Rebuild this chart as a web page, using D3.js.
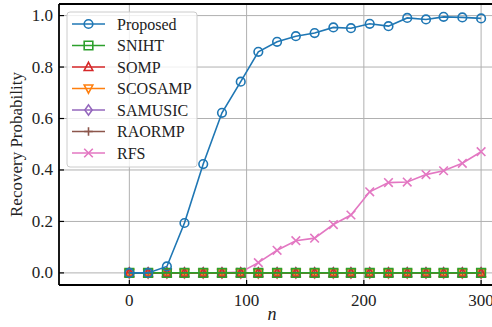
<!DOCTYPE html>
<html>
<head>
<meta charset="utf-8">
<script src="https://cdn.jsdelivr.net/npm/d3@7"></script>
<style>
  body { margin: 0; background: #fff; }
  svg text { font-family: "Liberation Serif", "DejaVu Serif", serif; fill: #222; }
</style>
</head>
<body>
<div id="chart"></div>
<script>

  // data
  var nValues = [0, 16, 32, 47, 63, 79, 95, 110, 126, 142, 158, 174, 189, 205, 221, 237, 253, 268, 284, 300];
  var proposed = [0, 0, 0.025, 0.194, 0.423, 0.622, 0.743, 0.859, 0.898, 0.920, 0.932, 0.954, 0.951, 0.968, 0.959, 0.991, 0.985, 0.995, 0.993, 0.989];
  var zeros = [0, 0, 0, 0, 0, 0, 0, 0, 0, 0, 0, 0, 0, 0, 0, 0, 0, 0, 0, 0];
  var rfs = [0, 0, 0, 0, 0, 0, 0.003, 0.040, 0.088, 0.125, 0.135, 0.188, 0.225, 0.315, 0.351, 0.353, 0.382, 0.397, 0.426, 0.471];
  var xTicks = [0, 100, 200, 300];
  var yTicks = [0, 0.2, 0.4, 0.6, 0.8, 1.0];

  var series = [
    {name: "Proposed", color: "#1f77b4", marker: "circle", values: proposed},
    {name: "SNIHT", color: "#2ca02c", marker: "square", values: zeros},
    {name: "SOMP", color: "#d62728", marker: "triUp", values: zeros},
    {name: "SCOSAMP", color: "#ff7f0e", marker: "triDown", values: zeros},
    {name: "SAMUSIC", color: "#9467bd", marker: "diamond", values: zeros},
    {name: "RAORMP", color: "#8c564b", marker: "plus", values: zeros},
    {name: "RFS", color: "#e377c2", marker: "cross", values: rfs}
  ];

  function recoveryChart(domElement) {

    // geometry
    var outerWidth = 492,
        outerHeight = 327,
        pLeft = 59, pTop = 4, pRight = 494, pBottom = 285;

    var x = d3.scaleLinear().domain([-60, 311]).range([pLeft, pRight]);
    var y = d3.scaleLinear().domain([-0.047, 1.045]).range([pBottom, pTop]);

    var svg = d3.select(domElement).append("svg")
        .attr("width", outerWidth)
        .attr("height", outerHeight);

    svg.append("clipPath")
        .attr("id", "plot-area")
        .append("rect")
        .attr("x", pLeft).attr("y", pTop)
        .attr("width", pRight - pLeft).attr("height", pBottom - pTop);

    // grid
    var grid = svg.append("g").attr("class", "grid");
    grid.selectAll("line.gx").data(xTicks).enter().append("line")
        .attr("class", "gx")
        .attr("x1", function(d) { return x(d); }).attr("x2", function(d) { return x(d); })
        .attr("y1", pTop).attr("y2", pBottom)
        .attr("stroke", "#b0b0b0").attr("stroke-width", 1);
    grid.selectAll("line.gy").data(yTicks).enter().append("line")
        .attr("class", "gy")
        .attr("y1", function(d) { return y(d); }).attr("y2", function(d) { return y(d); })
        .attr("x1", pLeft).attr("x2", pRight)
        .attr("stroke", "#b0b0b0").attr("stroke-width", 1);

    // marker shapes
    function markerPath(type, s) {
      switch (type) {
        case "circle": return d3.symbol(d3.symbolCircle, Math.PI * s * s)();
        case "square": return "M" + (-s) + "," + (-s) + "H" + s + "V" + s + "H" + (-s) + "Z";
        case "triUp": return "M0," + (-s * 1.1) + "L" + s + "," + (s * 0.8) + "L" + (-s) + "," + (s * 0.8) + "Z";
        case "triDown": return "M0," + (s * 1.1) + "L" + s + "," + (-s * 0.8) + "L" + (-s) + "," + (-s * 0.8) + "Z";
        case "diamond": return "M0," + (-s * 1.2) + "L" + (s * 0.85) + ",0L0," + (s * 1.2) + "L" + (-s * 0.85) + ",0Z";
        case "plus": return "M" + (-s) + ",0H" + s + "M0," + (-s) + "V" + s;
        case "cross": return "M" + (-s) + "," + (-s) + "L" + s + "," + s + "M" + s + "," + (-s) + "L" + (-s) + "," + s;
      }
    }

    var line = d3.line()
        .x(function(d, i) { return x(nValues[i]); })
        .y(function(d) { return y(d); });

    var plot = svg.append("g").attr("clip-path", "url(#plot-area)");

    // draw in reverse so Proposed ends on top
    series.slice().reverse().forEach(function(s) {
      var g = plot.append("g");
      g.append("path")
          .attr("d", line(s.values))
          .attr("fill", "none")
          .attr("stroke", s.color)
          .attr("stroke-width", 1.6);
      g.selectAll("path.m").data(s.values).enter().append("path")
          .attr("class", "m")
          .attr("transform", function(d, i) { return "translate(" + x(nValues[i]) + "," + y(d) + ")"; })
          .attr("d", markerPath(s.marker, 4.3))
          .attr("fill", "none")
          .attr("stroke", s.color)
          .attr("stroke-width", 1.6);
    });

    // spines
    svg.append("line").attr("x1", pLeft).attr("x2", pLeft).attr("y1", pTop).attr("y2", pBottom)
        .attr("stroke", "#000").attr("stroke-width", 1.8);
    svg.append("line").attr("x1", pLeft).attr("x2", pRight).attr("y1", pBottom).attr("y2", pBottom)
        .attr("stroke", "#000").attr("stroke-width", 1.8);
    svg.append("line").attr("x1", pLeft).attr("x2", pRight).attr("y1", pTop).attr("y2", pTop)
        .attr("stroke", "#000").attr("stroke-width", 1.8);

    // ticks (inward)
    svg.selectAll("line.tx").data(xTicks).enter().append("line")
        .attr("class", "tx")
        .attr("x1", function(d) { return x(d); }).attr("x2", function(d) { return x(d); })
        .attr("y1", pBottom).attr("y2", pBottom - 5)
        .attr("stroke", "#000").attr("stroke-width", 1.2);
    svg.selectAll("line.ty").data(yTicks).enter().append("line")
        .attr("class", "ty")
        .attr("y1", function(d) { return y(d); }).attr("y2", function(d) { return y(d); })
        .attr("x1", pLeft).attr("x2", pLeft + 5)
        .attr("stroke", "#000").attr("stroke-width", 1.2);

    svg.selectAll("text.tx").data(xTicks).enter().append("text")
        .attr("class", "tx")
        .attr("x", function(d) { return x(d); })
        .attr("y", pBottom + 21)
        .attr("text-anchor", "middle")
        .attr("font-size", 17)
        .text(function(d) { return d; });
    svg.selectAll("text.ty").data(yTicks).enter().append("text")
        .attr("class", "ty")
        .attr("x", pLeft - 6)
        .attr("y", function(d) { return y(d) + 5.5; })
        .attr("text-anchor", "end")
        .attr("font-size", 17)
        .text(function(d) { return d.toFixed(1); });

    // axis labels
    svg.append("text")
        .attr("transform", "translate(22," + ((pTop + pBottom) / 2) + ") rotate(-90)")
        .attr("text-anchor", "middle")
        .attr("font-size", 17)
        .text("Recovery Probability");
    svg.append("text")
        .attr("x", 272)
        .attr("y", 320)
        .attr("text-anchor", "middle")
        .attr("font-size", 18)
        .attr("font-style", "italic")
        .text("n");

    // legend
    var legend = svg.append("g").attr("transform", "translate(67,12)");
    legend.append("rect")
        .attr("width", 130).attr("height", 155)
        .attr("rx", 3)
        .attr("fill", "#fff").attr("fill-opacity", 0.8)
        .attr("stroke", "#cccccc").attr("stroke-width", 1);
    series.forEach(function(s, i) {
      var row = legend.append("g").attr("transform", "translate(0," + (12 + i * 21.5) + ")");
      row.append("line").attr("x1", 5).attr("x2", 38).attr("y1", 0).attr("y2", 0)
          .attr("stroke", s.color).attr("stroke-width", 1.6);
      row.append("path").attr("transform", "translate(21.5,0)")
          .attr("d", markerPath(s.marker, 4.3))
          .attr("fill", "none").attr("stroke", s.color).attr("stroke-width", 1.6);
      row.append("text").attr("x", 50).attr("y", 5.5)
          .attr("font-size", 16)
          .text(s.name);
    });
  }

  recoveryChart("#chart");

</script>
</body>
</html>
